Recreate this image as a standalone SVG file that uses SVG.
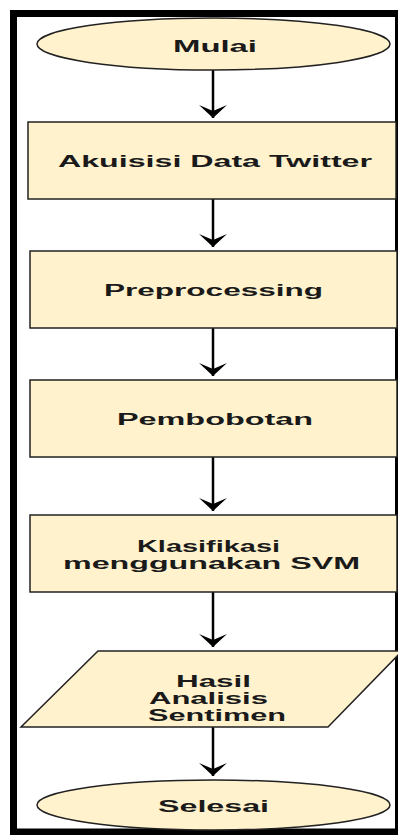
<svg xmlns="http://www.w3.org/2000/svg" width="398" height="835" viewBox="0 0 398 835">
<style>
.shape{fill:#fff2cc;stroke:#222;stroke-width:1.5}
.lbl{font-family:"Liberation Sans",Arial,sans-serif;font-size:16px;font-weight:bold;fill:#1a1a1a;text-anchor:middle}
.conn{stroke:#000;stroke-width:2.5;fill:none}
</style>
<defs>
<marker id="ah" viewBox="-14 -15 15 30" refX="0" refY="0" markerWidth="15" markerHeight="30" orient="auto" markerUnits="userSpaceOnUse">
<path d="M0,0 L-13,-14 L-7,0 L-13,14 Z" fill="#000"/>
</marker>
</defs>
<rect width="398" height="835" fill="#fff"/>
<rect x="13.5" y="13.5" width="385" height="818.5" fill="none" stroke="#000" stroke-width="7"/>
<g id="connectors">
<path class="conn" d="M213,70 V118" marker-end="url(#ah)"/>
<path class="conn" d="M213,199 V247" marker-end="url(#ah)"/>
<path class="conn" d="M213,328 V376" marker-end="url(#ah)"/>
<path class="conn" d="M213,457 V511" marker-end="url(#ah)"/>
<path class="conn" d="M213,592 V647" marker-end="url(#ah)"/>
<path class="conn" d="M213,727 V776" marker-end="url(#ah)"/>
</g>
<g id="mulai">
<ellipse class="shape" cx="213.5" cy="44" rx="176.5" ry="26"/>
<text class="lbl" x="215" y="52" textLength="84" lengthAdjust="spacingAndGlyphs">Mulai</text>
</g>
<g id="akuisisi">
<rect class="shape" x="28" y="122" width="368" height="77"/>
<text class="lbl" x="215" y="167" textLength="314" lengthAdjust="spacingAndGlyphs">Akuisisi Data Twitter</text>
</g>
<g id="preprocessing">
<rect class="shape" x="30" y="251" width="367" height="77"/>
<text class="lbl" x="213.5" y="296" textLength="219" lengthAdjust="spacingAndGlyphs">Preprocessing</text>
</g>
<g id="pembobotan">
<rect class="shape" x="30" y="380" width="367" height="77"/>
<text class="lbl" x="215" y="425" textLength="196" lengthAdjust="spacingAndGlyphs">Pembobotan</text>
</g>
<g id="klasifikasi">
<rect class="shape" x="30" y="515" width="367" height="77"/>
<text class="lbl" x="208.5" y="552" textLength="143" lengthAdjust="spacingAndGlyphs">Klasifikasi</text>
<text class="lbl" x="211.5" y="569" textLength="297" lengthAdjust="spacingAndGlyphs">menggunakan SVM</text>
</g>
<g id="hasil">
<polygon class="shape" points="98,651 402,651 328,727 21,727"/>
<text class="lbl" x="213.5" y="687" textLength="75" lengthAdjust="spacingAndGlyphs">Hasil</text>
<text class="lbl" x="208.5" y="704" textLength="119" lengthAdjust="spacingAndGlyphs">Analisis</text>
<text class="lbl" x="217" y="721" textLength="138" lengthAdjust="spacingAndGlyphs">Sentimen</text>
</g>
<g id="selesai">
<ellipse class="shape" cx="213.5" cy="805" rx="176.5" ry="25"/>
<text class="lbl" x="213.5" y="812" textLength="111" lengthAdjust="spacingAndGlyphs">Selesai</text>
</g>
</svg>
